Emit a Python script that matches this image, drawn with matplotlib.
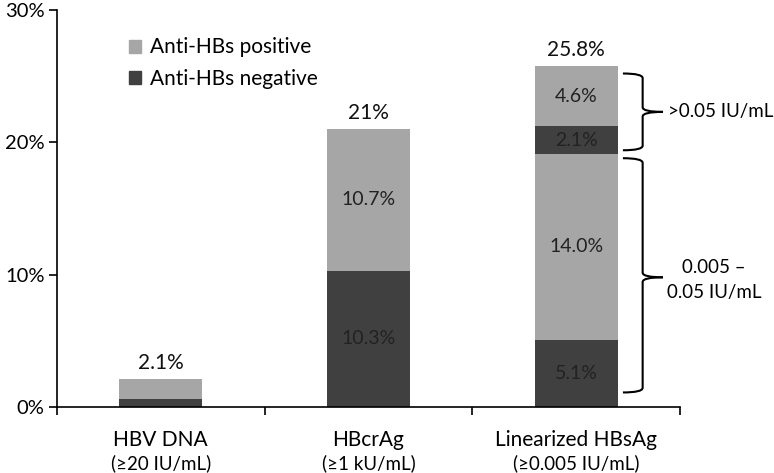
import matplotlib
matplotlib.use("Agg")
import matplotlib.pyplot as plt
from matplotlib.path import Path
from matplotlib.patches import PathPatch, Patch
from matplotlib.transforms import blended_transform_factory

plt.rcParams['font.family'] = ['Lato', 'DejaVu Sans']

categories = ["HBV DNA", "HBcrAg", "Linearized HBsAg"]
sublabels = ["(\u226520 IU/mL)", "(\u22651 kU/mL)", "(\u22650.005 IU/mL)"]

# stacked segments, bottom to top
neg_low = [0.6, 10.3, 5.1]
pos_low = [1.5, 10.7, 14.0]
neg_high = [0.0, 0.0, 2.1]
pos_high = [0.0, 0.0, 4.6]
total_labels = ["2.1%", "21%", "25.8%"]
show_inside = [False, True, True]

light = "#A6A6A6"
dark = "#404040"

fig = plt.figure(figsize=(7.74, 4.73), dpi=100)
ax = fig.add_axes([0.0736, 0.1395, 0.805, 0.8394])

x = list(range(len(categories)))
w = 0.4
bottom = [0.0] * 3
segments = [(neg_low, dark), (pos_low, light), (neg_high, dark), (pos_high, light)]
for vals, col in segments:
    ax.bar(x, vals, w, bottom=bottom, color=col, edgecolor="none")
    for i in x:
        if show_inside[i] and vals[i] > 0:
            ax.text(i, bottom[i] + vals[i] / 2, "%.1f%%" % vals[i], ha="center",
                    va="center", fontsize=14, color="#222222")
    bottom = [b + v for b, v in zip(bottom, vals)]

for i in x:
    ax.text(i, bottom[i] + 0.45, total_labels[i], ha="center", va="bottom",
            fontsize=15, color="#111111")

ax.set_xlim(-0.5, 2.5)
ax.set_ylim(0, 30)
ax.set_yticks([0, 10, 20, 30])
ax.set_yticklabels(["0%", "10%", "20%", "30%"], fontsize=14.5)
ax.set_xticks([-0.5, 0.5, 1.5, 2.5])
ax.set_xticklabels([])
ax.tick_params(axis="both", direction="out", length=6, width=1.2, color="black", pad=3)
for s in ["top", "right"]:
    ax.spines[s].set_visible(False)
for s in ["left", "bottom"]:
    ax.spines[s].set_linewidth(1.2)

tr = blended_transform_factory(ax.transData, ax.transAxes)
for i in x:
    ax.text(i, -0.083, categories[i], transform=tr, ha="center", va="center", fontsize=15)
    ax.text(i, -0.142, sublabels[i], transform=tr, ha="center", va="center", fontsize=13.5)

# legend
handles = [Patch(color=light, label="Anti-HBs positive"),
           Patch(color=dark, label="Anti-HBs negative")]
ax.legend(handles=handles, loc="upper left", bbox_to_anchor=(0.085, 0.978), frameon=False,
          fontsize=15, handlelength=0.6, handleheight=0.6, handletextpad=0.4,
          labelspacing=0.55)


def brace(top, bot, mid, x0=2.225, x1=2.32, xt=2.418, r=0.35):
    for y_end, sgn in [(top, -1), (bot, 1)]:
        verts = [(x0, y_end), (x1, y_end), (x1, y_end + sgn * r),
                 (x1, mid - sgn * r), (x1, mid), (xt, mid)]
        codes = [Path.MOVETO, Path.CURVE3, Path.CURVE3, Path.LINETO, Path.CURVE3, Path.CURVE3]
        ax.add_patch(PathPatch(Path(verts, codes), fill=False, lw=1.5, color="black",
                               clip_on=False))


brace(25.2, 19.4, 22.3)
brace(18.8, 1.1, 9.8)
ax.text(2.44, 22.3, ">0.05 IU/mL", ha="left", va="center", fontsize=13.5, clip_on=False)
ax.text(2.665, 9.6, "0.005 \u2013\n0.05 IU/mL", ha="center", va="center", fontsize=13.5,
        linespacing=1.55, clip_on=False)

fig.savefig("out.png", dpi=100)
